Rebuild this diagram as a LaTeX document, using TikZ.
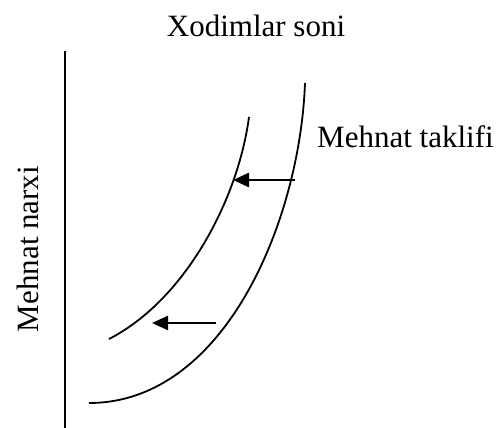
\documentclass[tikz,border=0pt]{standalone}
\usepackage{fontspec}
\setmainfont{Liberation Serif}
\usetikzlibrary{arrows.meta}
\begin{document}
\begin{tikzpicture}[x=1pt,y=-1pt,
  lbl/.style={font=\fontsize{31}{36}\selectfont,inner sep=0pt},
  curve/.style={line width=1.8pt},
  movearrow/.style={line width=2.4pt,-{Triangle[length=16pt,width=14pt]}}]
\useasboundingbox (0,0) rectangle (499,428);
\draw[line width=1.8pt] (65,51) -- (65,428);
\node[lbl,anchor=base] (top) at (256,37) {Xodimlar soni};
\node[lbl,anchor=base west] (supply) at (317,148) {Mehnat taklifi};
\node[lbl,anchor=base,rotate=90] (price) at (38,249) {Mehnat narxi};
\draw[curve] (89,403) .. controls (225,403) and (300,220) .. (305,83);
\draw[curve] (109,339) .. controls (185,300) and (238,200) .. (249,117);
\coordinate (a1) at (295,180);
\coordinate (b1) at (233,180);
\coordinate (a2) at (216,323);
\coordinate (b2) at (152,323);
\draw[movearrow] (a1) -- (b1);
\draw[movearrow] (a2) -- (b2);
\end{tikzpicture}
\end{document}
